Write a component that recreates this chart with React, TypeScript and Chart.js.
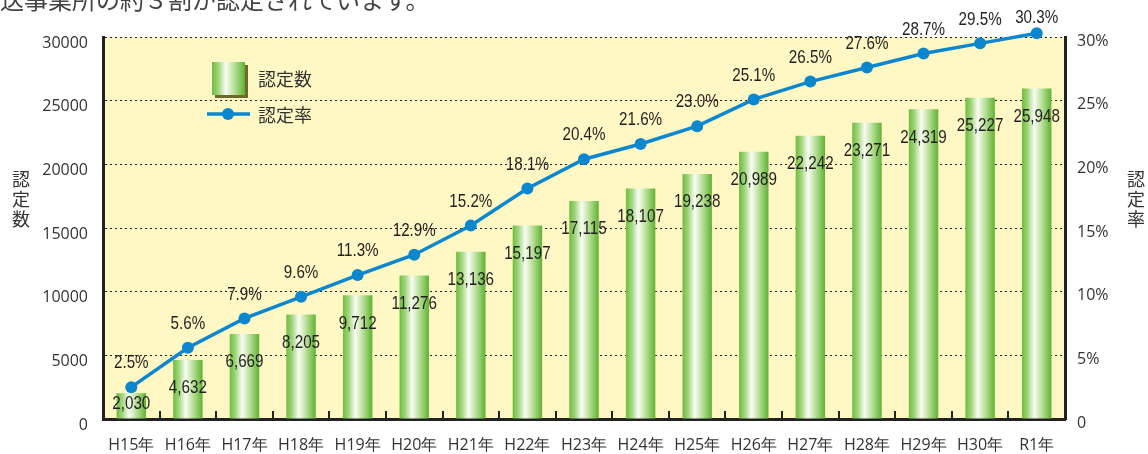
import React, { useEffect, useRef } from "react";
import { Chart, registerables } from "chart.js";

Chart.register(...registerables);

const categories = ["H15年", "H16年", "H17年", "H18年", "H19年", "H20年", "H21年", "H22年", "H23年", "H24年", "H25年", "H26年", "H27年", "H28年", "H29年", "H30年", "R1年"];
const counts = [2030, 4632, 6669, 8205, 9712, 11276, 13136, 15197, 17115, 18107, 19238, 20989, 22242, 23271, 24319, 25227, 25948];
const rates = [2.5, 5.6, 7.9, 9.6, 11.3, 12.9, 15.2, 18.1, 20.4, 21.6, 23.0, 25.1, 26.5, 27.6, 28.7, 29.5, 30.3];
const countTicks = [0, 5000, 10000, 15000, 20000, 25000, 30000];
const rateTicks = [0, 5, 10, 15, 20, 25, 30];
const headline = "送事業所の約３割が認定されています。";
const countLabel = "認定数";
const rateLabel = "認定率";

const BAR_PCT = 0.52;
const LINE_COLOR = "#0b87cf";
const TEXT = "#333333";
const NUM_FONT = "19px 'Liberation Sans', Arial, sans-serif";
const JP_FONT = "'Noto Sans CJK JP', 'Noto Sans', sans-serif";
const TICK_FONT = { family: "'Open Sans'", size: 16 };

function barGradient(ctx: CanvasRenderingContext2D, x0: number, x1: number) {
  const g = ctx.createLinearGradient(x0, 0, x1, 0);
  g.addColorStop(0, "#6cbd3c");
  g.addColorStop(0.2, "#a3d680");
  g.addColorStop(0.42, "#f9fdf3");
  g.addColorStop(0.7, "#b3dc90");
  g.addColorStop(1, "#5db232");
  return g;
}

function narrowText(ctx: CanvasRenderingContext2D, t: string, x: number, y: number) {
  ctx.save();
  ctx.translate(x, y);
  ctx.scale(0.8, 1);
  ctx.fillText(t, 0, 0);
  ctx.restore();
}

const decorPlugin = {
  id: "decor",
  beforeDraw(chart: any) {
    const { ctx, chartArea } = chart;
    ctx.save();
    ctx.fillStyle = "#fff8c4";
    ctx.fillRect(chartArea.left, chartArea.top, chartArea.right - chartArea.left, chartArea.bottom - chartArea.top);
    ctx.restore();
  },
  afterDatasetsDraw(chart: any) {
    const { ctx, chartArea } = chart;
    ctx.save();
    const step = (chartArea.right - chartArea.left) / categories.length;
    ctx.strokeStyle = "#222";
    ctx.lineWidth = 2;
    for (let i = 1; i < categories.length; i++) {
      const x = Math.round(chartArea.left + step * i);
      ctx.beginPath();
      ctx.moveTo(x, chartArea.bottom);
      ctx.lineTo(x, chartArea.bottom - 8);
      ctx.stroke();
    }
    ctx.fillStyle = "#231f20";
    ctx.font = NUM_FONT;
    ctx.textAlign = "center";
    ctx.textBaseline = "middle";
    chart.data.datasets.forEach((ds: any, di: number) => {
      const meta = chart.getDatasetMeta(di);
      meta.data.forEach((el: any, i: number) => {
        if (ds.type === "bar") {
          const y = Math.min(el.y + 28, chartArea.bottom - 15);
          narrowText(ctx, Number(ds.data[i]).toLocaleString("en-US"), el.x, y);
        } else {
          const y = Math.max(el.y - 24, chartArea.top - 19);
          narrowText(ctx, Number(ds.data[i]).toFixed(1) + "%", el.x, y);
        }
      });
    });
    const barDs = chart.data.datasets.find((d: any) => d.type === "bar");
    const lineDs = chart.data.datasets.find((d: any) => d.type === "line");
    ctx.fillStyle = "#6d6a2a";
    ctx.fillRect(215, 65, 33, 33);
    ctx.fillStyle = barGradient(ctx, 212, 245);
    ctx.fillRect(212, 62, 33, 33);
    ctx.strokeStyle = lineDs.borderColor;
    ctx.lineWidth = 3.5;
    ctx.beginPath();
    ctx.moveTo(207, 114);
    ctx.lineTo(250, 114);
    ctx.stroke();
    ctx.fillStyle = lineDs.borderColor;
    ctx.beginPath();
    ctx.arc(228, 114, 6, 0, Math.PI * 2);
    ctx.fill();
    ctx.fillStyle = TEXT;
    ctx.font = "18px " + JP_FONT;
    ctx.textAlign = "left";
    ctx.fillText(barDs.label, 258, 79);
    ctx.fillText(lineDs.label, 258, 115);
    ctx.restore();
  },
  afterDraw(chart: any) {
    const { ctx } = chart;
    ctx.save();
    ctx.fillStyle = TEXT;
    ctx.textAlign = "center";
    ctx.textBaseline = "middle";
    ctx.font = "18px " + JP_FONT;
    const ys = [179, 199, 219];
    Array.from(countLabel).forEach((c, i) => ctx.fillText(c, 21, ys[i]));
    Array.from(rateLabel).forEach((c, i) => ctx.fillText(c, 1136, ys[i]));
    ctx.font = "24px " + JP_FONT;
    ctx.fillStyle = "#444";
    ctx.textAlign = "left";
    ctx.textBaseline = "alphabetic";
    ctx.fillText(headline, 0, 9);
    ctx.restore();
  },
};

export default function App() {
  const ref = useRef<HTMLCanvasElement | null>(null);
  useEffect(() => {
    if (!ref.current) return;
    const chart = new Chart(ref.current, {
      data: {
        labels: categories,
        datasets: [
          {
            type: "line",
            label: rateLabel,
            data: rates,
            yAxisID: "y1",
            borderColor: LINE_COLOR,
            backgroundColor: LINE_COLOR,
            borderWidth: 3.5,
            pointRadius: 6,
            pointBorderWidth: 0,
            pointBackgroundColor: LINE_COLOR,
            clip: false,
            order: 0,
          },
          {
            type: "bar",
            label: countLabel,
            data: counts,
            yAxisID: "y",
            barPercentage: BAR_PCT,
            categoryPercentage: 1,
            order: 1,
            backgroundColor: (c: any) => {
              const ch = c.chart;
              const xs = ch.scales && ch.scales.x;
              const area = ch.chartArea;
              if (!xs || !area || c.dataIndex === undefined) return "#8cc96a";
              const x = xs.getPixelForValue(c.dataIndex);
              const w = ((area.right - area.left) / categories.length) * BAR_PCT;
              if (!isFinite(x) || !isFinite(w)) return "#8cc96a";
              return barGradient(ch.ctx, x - w / 2, x + w / 2);
            },
          },
        ] as any,
      },
      options: {
        responsive: false,
        animation: false,
        layout: { padding: { top: 37, left: 0, right: 0, bottom: 0 } },
        plugins: { legend: { display: false }, tooltip: { enabled: false } },
        scales: {
          x: {
            offset: true,
            grid: { display: false },
            border: { color: "#222", width: 3 },
            ticks: { color: TEXT, font: TICK_FONT, padding: 9, maxRotation: 0, autoSkip: false },
            afterFit: (s: any) => { s.height = 35; },
          },
          y: {
            position: "left",
            min: 0,
            max: 30000,
            afterBuildTicks: (s: any) => { s.ticks = countTicks.map((v) => ({ value: v })); },
            grid: { color: "#222", lineWidth: 1, drawTicks: false },
            border: { color: "#222", width: 3, dash: [2, 3] } as any,
            ticks: { color: TEXT, font: TICK_FONT, padding: 15, labelOffset: 6, callback: (v: any) => String(v) },
            afterFit: (s: any) => { s.width = 103; },
          },
          y1: {
            position: "right",
            min: 0,
            max: 30,
            afterBuildTicks: (s: any) => { s.ticks = rateTicks.map((v) => ({ value: v })); },
            grid: { drawOnChartArea: false, drawTicks: false },
            border: { color: "#222", width: 3 },
            ticks: {
              color: TEXT,
              font: TICK_FONT,
              padding: 12,
              labelOffset: 4,
              callback: (v: any) => (v === 0 ? "0" : v + "%"),
            },
            afterFit: (s: any) => { s.width = 83; },
          },
        },
      } as any,
      plugins: [decorPlugin],
    });
    return () => chart.destroy();
  }, []);
  return (
    <div style={{ position: "absolute", left: 0, top: 0, width: 1148, height: 454 }}>
      <canvas ref={ref} width={1148} height={454} style={{ width: 1148, height: 454, display: "block" }} />
    </div>
  );
}
